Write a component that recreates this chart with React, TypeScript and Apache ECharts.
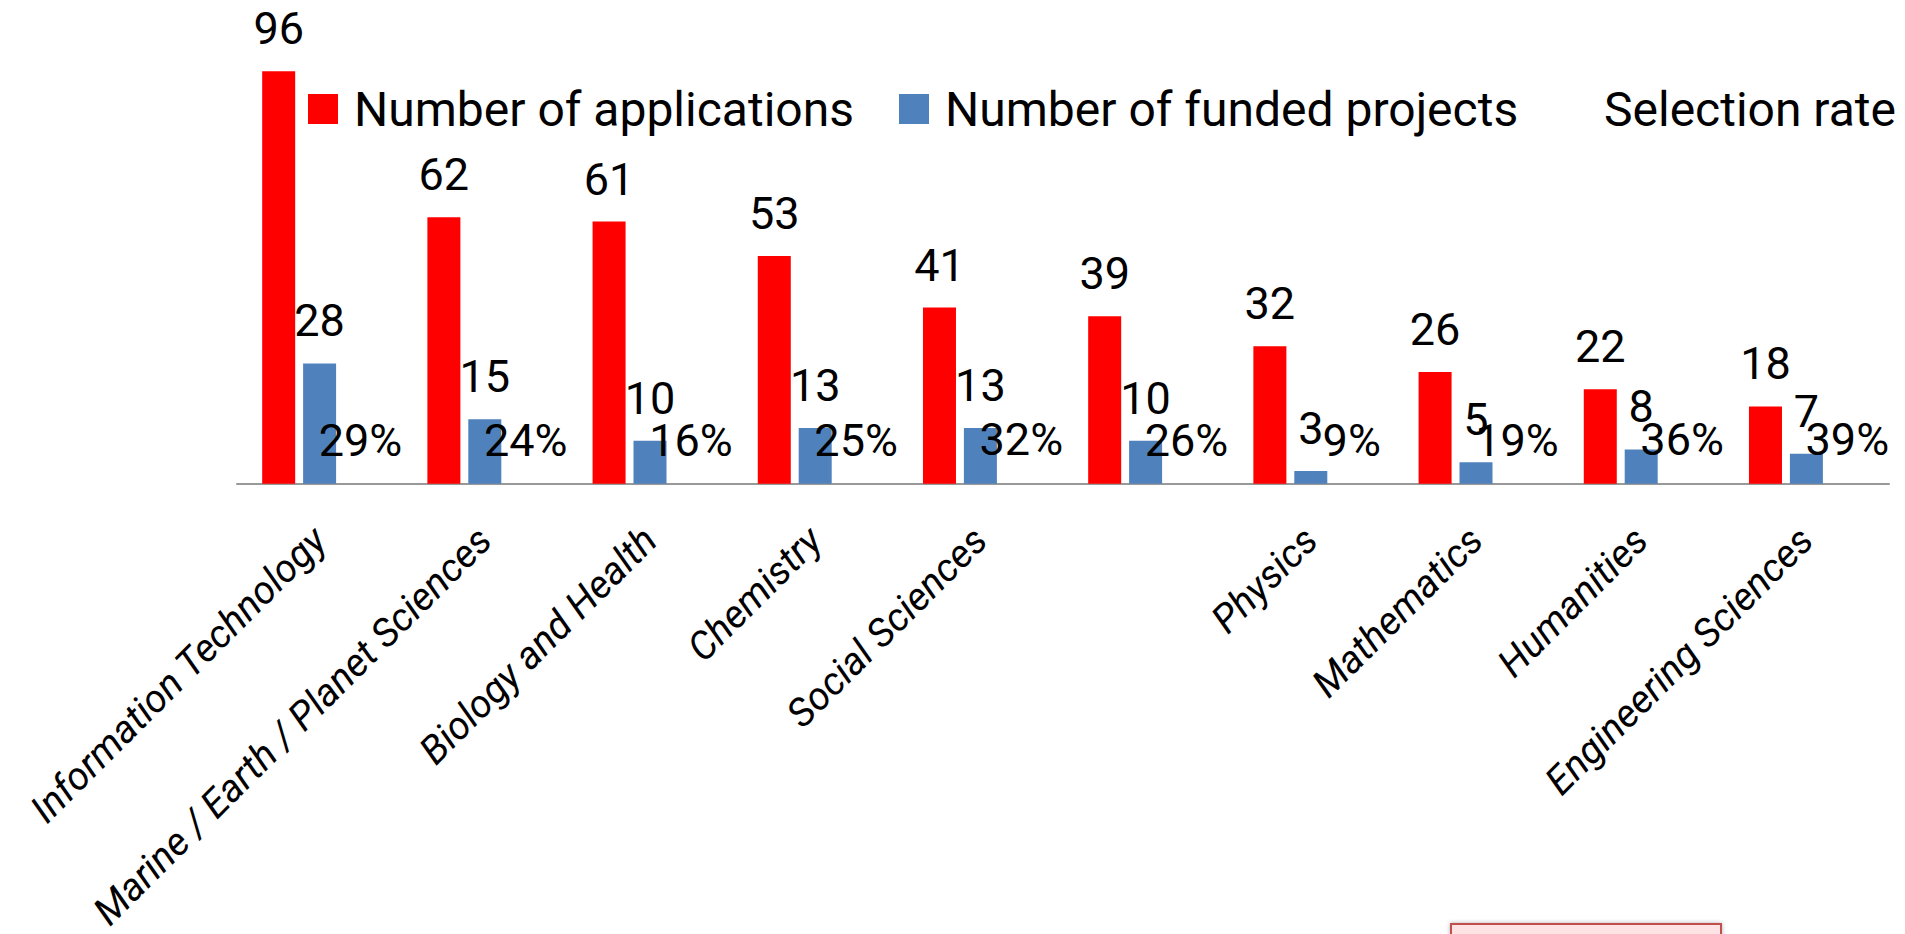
import React, { useEffect, useRef } from "react";
import * as echarts from "echarts";

const categories = [
  "Information Technology",
  "Marine / Earth / Planet Sciences",
  "Biology and Health",
  "Chemistry",
  "Social Sciences",
  "",
  "Physics",
  "Mathematics",
  "Humanities",
  "Engineering Sciences",
];
const applications = [96, 62, 61, 53, 41, 39, 32, 26, 22, 18];
const funded = [28, 15, 10, 13, 13, 10, 3, 5, 8, 7];
const selectionRate = [0.29, 0.24, 0.16, 0.25, 0.32, 0.26, 0.09, 0.19, 0.36, 0.39];

const FONT = "Roboto, 'Noto Sans', sans-serif";

export default function App() {
  const ref = useRef<HTMLDivElement>(null);
  useEffect(() => {
    document.body.style.margin = "0";
    document.body.style.overflow = "hidden";
    const chart = echarts.init(ref.current!, null, { renderer: "svg" });
    const labelBase = {
      show: true,
      position: "top" as const,
      distance: 20,
      fontSize: 45,
      fontFamily: FONT,
      color: "#000",
    };
    const legendText = {
      fontSize: 48,
      fontFamily: FONT,
      color: "#000",
      padding: [0, 0, 0, 11],
    };
    const legendCommon = {
      top: 80,
      itemWidth: 30,
      itemHeight: 30,
      icon: "rect",
      selectedMode: false,
      textStyle: legendText,
    };
    chart.setOption({
      animation: false,
      backgroundColor: "#fff",
      legend: [
        { ...legendCommon, left: 303, data: ["Number of applications"] },
        { ...legendCommon, left: 894, data: ["Number of funded projects"] },
        { ...legendCommon, left: 1553, data: ["Selection rate"] },
      ],
      grid: { left: 237, right: 16, top: 54, height: 430 },
      xAxis: {
        type: "category",
        data: categories,
        axisLine: { show: true, lineStyle: { color: "#999", width: 2 } },
        axisTick: { show: false },
        axisLabel: {
          interval: 0,
          rotate: 45,
          margin: 50,
          fontSize: 39,
          fontStyle: "italic",
          fontFamily: FONT,
          color: "#000",
        },
      },
      yAxis: {
        type: "value",
        min: 0,
        max: 100,
        show: false,
        splitLine: { show: false },
      },
      series: [
        {
          name: "Number of applications",
          type: "bar",
          data: applications,
          barWidth: 33,
          barGap: "24%",
          itemStyle: { color: "#FF0000" },
          label: labelBase,
        },
        {
          name: "Number of funded projects",
          type: "bar",
          data: funded,
          barWidth: 33,
          barGap: "24%",
          itemStyle: { color: "#4F81BD" },
          label: labelBase,
        },
        {
          name: "Selection rate",
          type: "bar",
          data: selectionRate,
          barWidth: 33,
          barGap: "24%",
          itemStyle: { color: "rgba(0,0,0,0)" },
          label: {
            ...labelBase,
            formatter: (p: any) => Math.round(p.value * 100) + "%",
          },
        },
      ],
      graphic: [
        {
          type: "rect",
          shape: { x: 1451, y: 924, width: 270, height: 40 },
          style: {
            fill: "#FDE3E3",
            stroke: "#C0504D",
            lineWidth: 2,
            shadowBlur: 4,
            shadowColor: "rgba(0,0,0,0.3)",
          },
        },
      ],
    });
    return () => chart.dispose();
  }, []);
  return <div ref={ref} style={{ width: 1905, height: 934 }} />;
}
